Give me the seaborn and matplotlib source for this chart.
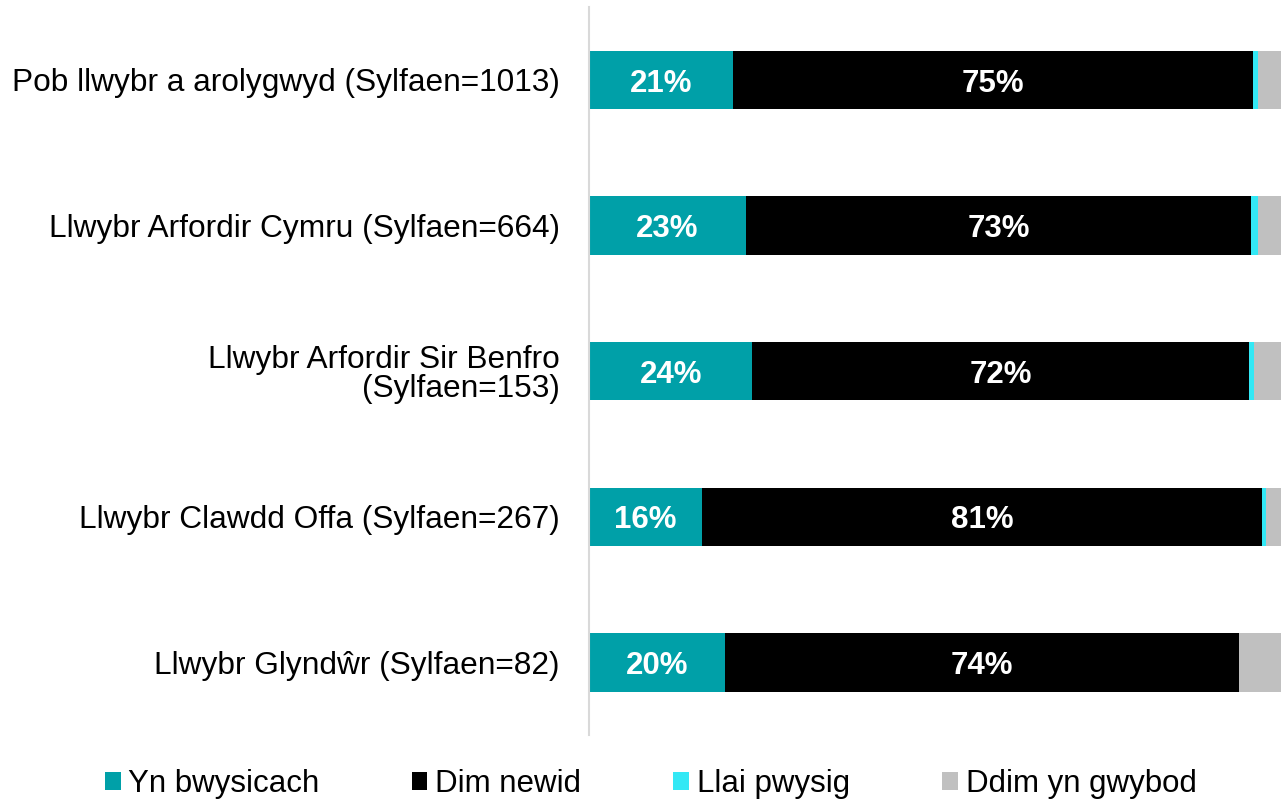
import matplotlib
matplotlib.use("Agg")
import matplotlib.pyplot as plt
import seaborn as sns
import numpy as np
import pandas as pd
from matplotlib.patches import Patch

categories = [
    "Pob llwybr a arolygwyd (Sylfaen=1013)",
    "Llwybr Arfordir Cymru (Sylfaen=664)",
    "Llwybr Arfordir Sir Benfro\n(Sylfaen=153)",
    "Llwybr Clawdd Offa (Sylfaen=267)",
    "Llwybr Glyndŵr (Sylfaen=82)",
]
series = ["Yn bwysicach", "Dim newid", "Llai pwysig", "Ddim yn gwybod"]
yn_bwysicach = [20.8, 22.7, 23.6, 16.4, 19.6]
dim_newid = [75.2, 73.0, 71.8, 80.9, 74.3]
llai_pwysig = [0.7, 1.0, 0.7, 0.5, 0.0]
ddim_yn_gwybod = [3.3, 3.3, 3.9, 2.2, 6.1]
colors = ["#00a0a8", "#000000", "#33e8f5", "#c0c0c0"]

sns.set_style("white")
plt.rcParams["font.family"] = ["Liberation Sans", "DejaVu Sans"]
plt.rcParams["text.color"] = "black"
plt.rcParams["ytick.color"] = "black"

df = pd.DataFrame({
    "cat": categories,
    series[0]: yn_bwysicach,
    series[1]: dim_newid,
    series[2]: llai_pwysig,
    series[3]: ddim_yn_gwybod,
})
cum = df[series].cumsum(axis=1)

fig = plt.figure(figsize=(12.81, 8), dpi=100)
ax = fig.add_axes([589 / 1281, 0.081, 1 - 589 / 1281, 0.91])

# stacked bars: draw cumulative totals from the back to the front
for s, c in reversed(list(zip(series, colors))):
    sns.barplot(x=cum[s], y=df["cat"], orient="h", color=c, width=0.4,
                ax=ax, saturation=1, linewidth=0)

# percentage labels for the first two segments
for i in range(len(categories)):
    left = 0
    for s in series[:2]:
        v = df[s][i]
        ax.text(left + v / 2, i, f"{round(v):d}%", ha="center",
                va="center_baseline", color="white", fontsize=22.5,
                fontweight="bold")
        left += v

ax.set_xlim(0, 100)
ax.set_xlabel("")
ax.set_ylabel("")
ax.set_xticks([])
ax.tick_params(axis="y", length=0, pad=21, labelsize=22.8, labelcolor="black")
for lab in ax.get_yticklabels():
    lab.set_linespacing(0.95)
for sp in ["top", "right", "bottom"]:
    ax.spines[sp].set_visible(False)
ax.spines["left"].set_color("#d9d9d9")
ax.spines["left"].set_linewidth(1.5)

handles = [Patch(facecolor=c, edgecolor="none") for c in colors]
fig.legend(handles, series, loc="center", bbox_to_anchor=(0.508, 0.02),
           ncol=4, frameon=False, fontsize=22.5, handlelength=0.5,
           handleheight=0.5, handletextpad=0.25, columnspacing=2.95)

fig.savefig("out.png", dpi=100)
